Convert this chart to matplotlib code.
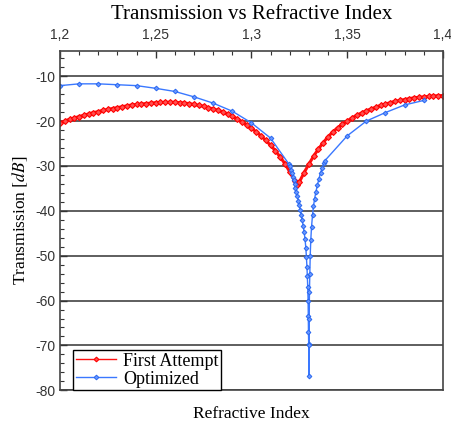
import numpy as np
import matplotlib.pyplot as plt
from matplotlib.ticker import FuncFormatter, MultipleLocator

plt.rcParams["mathtext.fontset"] = "stix"

# First Attempt (red)
first_x = [1.2000, 1.2025, 1.2050, 1.2075, 1.2100, 1.2125, 1.2150, 1.2175, 1.2200, 1.2225,
           1.2250, 1.2275, 1.2300, 1.2325, 1.2350, 1.2375, 1.2400, 1.2425, 1.2450, 1.2475,
           1.2500, 1.2525, 1.2550, 1.2575, 1.2600, 1.2625, 1.2650, 1.2675, 1.2700, 1.2725,
           1.2750, 1.2775, 1.2800, 1.2825, 1.2850, 1.2875, 1.2900, 1.2925, 1.2950, 1.2975,
           1.3000, 1.3025, 1.3050, 1.3075, 1.3100, 1.3125, 1.3150, 1.3175, 1.3200, 1.3225,
           1.3240, 1.3250, 1.3275, 1.3300, 1.3325, 1.3350, 1.3375, 1.3400, 1.3425, 1.3450,
           1.3475, 1.3500, 1.3525, 1.3550, 1.3575, 1.3600, 1.3625, 1.3650, 1.3675, 1.3700,
           1.3725, 1.3750, 1.3775, 1.3800, 1.3825, 1.3850, 1.3875, 1.3900, 1.3925, 1.3950,
           1.3975, 1.4000]
first_y = [-20.4, -20.0, -19.6, -19.3, -19.0, -18.7, -18.4, -18.1, -17.9, -17.6,
           -17.4, -17.2, -17.0, -16.8, -16.6, -16.4, -16.3, -16.2, -16.1, -16.0,
           -15.9, -15.85, -15.8, -15.8, -15.8, -15.9, -16.0, -16.1, -16.3, -16.5,
           -16.7, -17.0, -17.3, -17.6, -18.0, -18.4, -18.9, -19.5, -20.1, -20.8,
           -21.6, -22.4, -23.3, -24.3, -25.4, -26.6, -28.0, -29.5, -31.3, -33.3,
           -34.3, -33.6, -31.5, -29.6, -27.8, -26.2, -24.8, -23.5, -22.4, -21.5,
           -20.7, -20.0, -19.3, -18.7, -18.2, -17.7, -17.3, -16.9, -16.5, -16.2,
           -15.9, -15.6, -15.4, -15.2, -15.0, -14.8, -14.7, -14.6, -14.5, -14.4,
           -14.35, -14.3]

# Optimized (blue)
opt_x = [1.20, 1.21, 1.22, 1.23, 1.24, 1.25, 1.26, 1.27, 1.28, 1.29, 1.30, 1.31,
         1.3196, 1.3200, 1.3205, 1.3210, 1.3215, 1.3220, 1.3225, 1.3230, 1.3235, 1.3240,
         1.3245, 1.3250, 1.3255, 1.3260, 1.3265, 1.3270, 1.3275, 1.3280, 1.3284, 1.3287,
         1.3290, 1.3292, 1.3294, 1.3296, 1.3297, 1.3298, 1.3299, 1.3300,
         1.3301, 1.3302, 1.3303, 1.3305, 1.3307, 1.3310, 1.3314, 1.3319, 1.3324, 1.3330,
         1.3337, 1.3345, 1.3353, 1.3361, 1.3370, 1.3378, 1.3384,
         1.35, 1.36, 1.37, 1.38, 1.39]
opt_y = [-12.1, -11.7, -11.7, -11.9, -12.1, -12.7, -13.4, -14.6, -16.0, -17.8, -20.4, -23.8,
         -29.6, -30.0, -30.8, -31.6, -32.4, -33.2, -34.0, -35.0, -35.9, -36.8,
         -37.8, -38.8, -39.8, -40.9, -42.0, -43.3, -44.7, -46.3, -48.2, -50.2,
         -52.5, -54.6, -57.0, -60.0, -63.4, -67.1, -69.7, -76.8,
         -70.0, -64.0, -58.0, -54.0, -50.0, -46.5, -43.5, -41.0, -39.0, -37.3,
         -35.7, -34.2, -32.8, -31.5, -30.4, -29.4, -28.8,
         -23.3, -20.0, -18.1, -16.4, -15.4]

x_ticks = [1.2, 1.25, 1.3, 1.35, 1.4]
y_ticks = [-80, -70, -60, -50, -40, -30, -20, -10]

fig = plt.figure(figsize=(4.51, 4.23), dpi=100)
ax = fig.add_axes([0.133, 0.0773, 0.849, 0.803])

ax.plot(first_x, first_y, color="#ff1010", lw=2.2, marker="D", ms=3.0,
        mfc="#ff5050", mec="#ff0000", mew=0.8, label="First Attempt")
ax.plot(opt_x, opt_y, color="#3a78ff", lw=1.0, marker="D", ms=2.4,
        mfc="#6a98ff", mec="#2a68f0", mew=0.7, label="Optimized")

ax.set_xlim(1.2, 1.4)
ax.set_ylim(-80, -4.3)
ax.set_xticks(x_ticks)
ax.set_yticks(y_ticks)
ax.xaxis.set_minor_locator(MultipleLocator(0.01))
ax.yaxis.set_minor_locator(MultipleLocator(2))
ax.xaxis.set_major_formatter(FuncFormatter(lambda v, p: f"{v:g}".replace(".", ",")))
ax.yaxis.set_major_formatter(FuncFormatter(lambda v, p: f"{int(round(v))}"))

ax.xaxis.tick_top()
ax.xaxis.set_label_position("bottom")
ax.tick_params(axis="both", which="both", direction="in", colors="#333333",
               labelcolor="#333333")
ax.tick_params(axis="both", which="major", length=5, width=1)
ax.tick_params(axis="both", which="minor", length=3, width=0.8)
ax.tick_params(axis="x", labelsize=10, pad=6)
ax.tick_params(axis="y", labelsize=10, pad=3)
for lbl in ax.get_xticklabels() + ax.get_yticklabels():
    lbl.set_fontfamily("Liberation Sans")

ax.grid(True, axis="y", which="major", color="#333333", lw=1.1)
for s in ax.spines.values():
    s.set_color("#444444")
    s.set_linewidth(1.2)

ax.set_title("Transmission vs Refractive Index", fontfamily="Liberation Serif",
             fontsize=15, pad=23)
ax.set_xlabel("Refractive Index", fontfamily="Liberation Serif", fontsize=12.5, labelpad=11)
ax.set_ylabel(r"Transmission $[dB]$", fontfamily="Liberation Serif", fontsize=12.5, labelpad=4)

leg = ax.legend(loc="lower left", bbox_to_anchor=(0.035, 0.0), borderaxespad=0,
                prop={"family": "Liberation Serif", "size": 13}, fancybox=False,
                framealpha=1, edgecolor="black", handlelength=2.2,
                borderpad=0.15, labelspacing=0.05, handletextpad=0.4)
leg.get_frame().set_linewidth(1.0)
for h in leg.get_lines():
    h.set_linewidth(1.0)
    h.set_markersize(2.4)

plt.savefig("out.png", dpi=100)
